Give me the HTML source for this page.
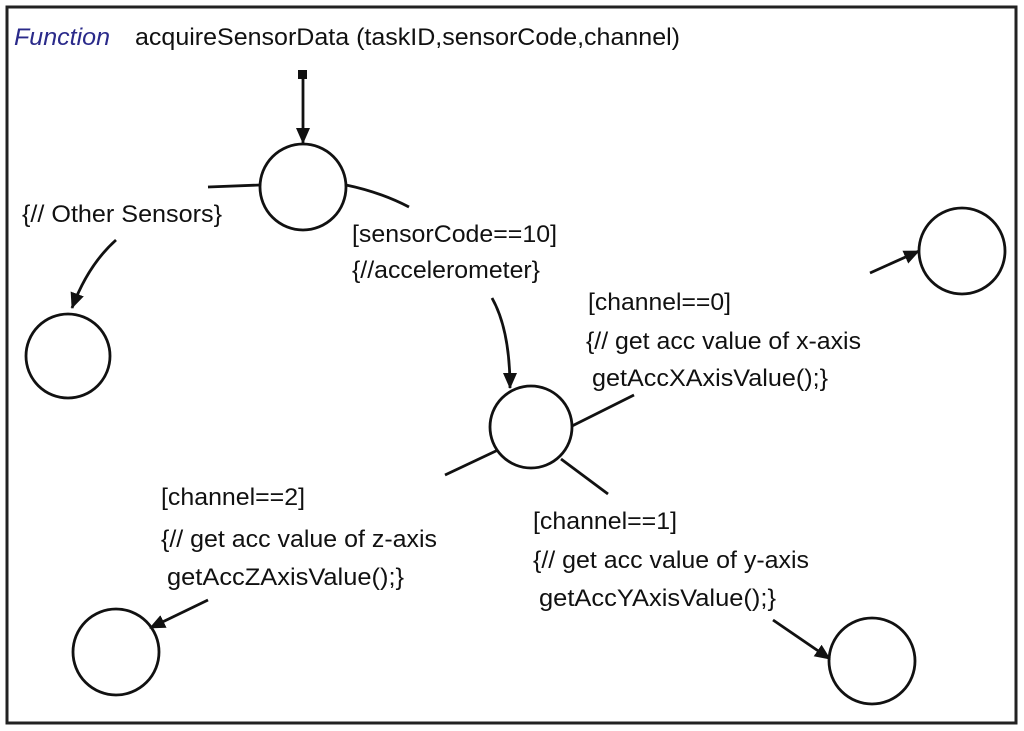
<!DOCTYPE html>
<html><head><style>
html,body{margin:0;padding:0;background:#fff;}
svg{display:block;}
text{font-family:"Liberation Sans",Arial,sans-serif;font-size:24px;fill:#111;}
</style></head><body>
<svg width="1024" height="731" viewBox="0 0 1024 731" xmlns="http://www.w3.org/2000/svg">
<defs>
<marker id="a" markerWidth="16" markerHeight="14" refX="15" refY="7" orient="auto" markerUnits="userSpaceOnUse" viewBox="0 0 16 14">
<path d="M0,0 L16,7 L0,14 z" fill="#111"/>
</marker>
</defs>
<rect x="7" y="7" width="1009" height="716" fill="#fff" stroke="#222" stroke-width="3"/>
<text x="14" y="45" textLength="96" lengthAdjust="spacingAndGlyphs" style="font-style:italic;fill:#2a2a8a">Function</text>
<text x="135" y="45" textLength="545" lengthAdjust="spacingAndGlyphs">acquireSensorData (taskID,sensorCode,channel)</text>
<g fill="none" stroke="#111" stroke-width="2.8">
<rect x="298" y="70" width="9" height="9" fill="#111" stroke="none"/>
<line x1="303" y1="78" x2="303" y2="143" marker-end="url(#a)"/>
<circle cx="303" cy="187" r="43"/>
<line x1="208" y1="187" x2="260" y2="185"/>
<path d="M346,185 Q380,192 409,207"/>
<path d="M116,240 Q88,265 72,308" marker-end="url(#a)"/>
<circle cx="68" cy="356" r="42"/>
<path d="M492,298 Q510,330 510,388" marker-end="url(#a)"/>
<circle cx="531" cy="427" r="41"/>
<line x1="572" y1="426" x2="634" y2="395"/>
<line x1="498" y1="450" x2="445" y2="475"/>
<line x1="561" y1="459" x2="608" y2="494"/>
<line x1="870" y1="273" x2="919" y2="251" marker-end="url(#a)"/>
<circle cx="962" cy="251" r="43"/>
<line x1="208" y1="600" x2="150" y2="628" marker-end="url(#a)"/>
<circle cx="116" cy="652" r="43"/>
<line x1="773" y1="620" x2="830" y2="659" marker-end="url(#a)"/>
<circle cx="872" cy="661" r="43"/>
</g>
<text x="22" y="222" textLength="200" lengthAdjust="spacingAndGlyphs">{// Other Sensors}</text>
<text x="352" y="242" textLength="205" lengthAdjust="spacingAndGlyphs">[sensorCode==10]</text>
<text x="352" y="278" textLength="188" lengthAdjust="spacingAndGlyphs">{//accelerometer}</text>
<text x="588" y="310" textLength="143" lengthAdjust="spacingAndGlyphs">[channel==0]</text>
<text x="586" y="349" textLength="275" lengthAdjust="spacingAndGlyphs">{// get acc value of x-axis</text>
<text x="592" y="386" textLength="236" lengthAdjust="spacingAndGlyphs">getAccXAxisValue();}</text>
<text x="161" y="505" textLength="144" lengthAdjust="spacingAndGlyphs">[channel==2]</text>
<text x="161" y="547" textLength="276" lengthAdjust="spacingAndGlyphs">{// get acc value of z-axis</text>
<text x="167" y="585" textLength="237" lengthAdjust="spacingAndGlyphs">getAccZAxisValue();}</text>
<text x="533" y="529" textLength="144" lengthAdjust="spacingAndGlyphs">[channel==1]</text>
<text x="533" y="568" textLength="276" lengthAdjust="spacingAndGlyphs">{// get acc value of y-axis</text>
<text x="539" y="606" textLength="237" lengthAdjust="spacingAndGlyphs">getAccYAxisValue();}</text>
</svg>
</body></html>
